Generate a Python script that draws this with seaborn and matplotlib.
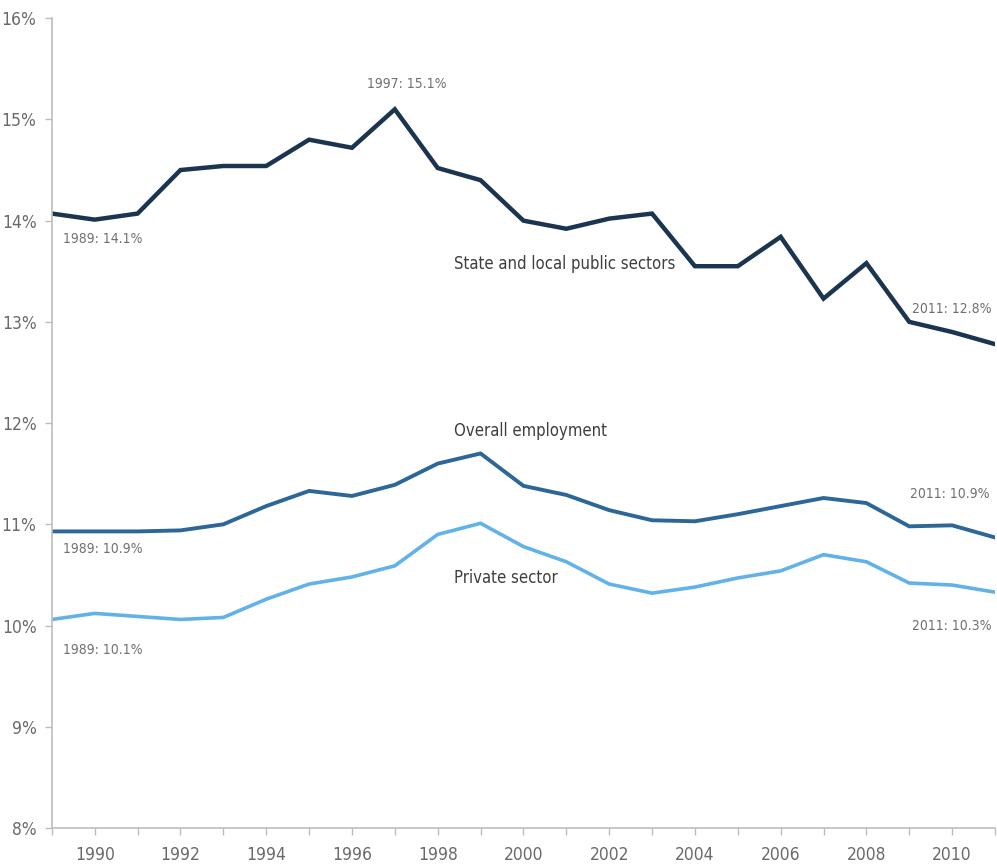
import numpy as np
import pandas as pd
import matplotlib
matplotlib.use("Agg")
import matplotlib.pyplot as plt
from matplotlib.ticker import FuncFormatter
import seaborn as sns

years = list(range(1989, 2012))

state_local = [14.07, 14.01, 14.07, 14.50, 14.54, 14.54, 14.80, 14.72, 15.10, 14.52,
               14.40, 14.00, 13.92, 14.02, 14.07, 13.55, 13.55, 13.84, 13.23, 13.58,
               13.00, 12.90, 12.78]
overall = [10.93, 10.93, 10.93, 10.94, 11.00, 11.18, 11.33, 11.28, 11.39, 11.60,
           11.70, 11.38, 11.29, 11.14, 11.04, 11.03, 11.10, 11.18, 11.26, 11.21,
           10.98, 10.99, 10.87]
private = [10.06, 10.12, 10.09, 10.06, 10.08, 10.26, 10.41, 10.48, 10.59, 10.90,
           11.01, 10.78, 10.63, 10.41, 10.32, 10.38, 10.47, 10.54, 10.70, 10.63,
           10.42, 10.40, 10.33]

series_names = ["State and local public sectors", "Overall employment", "Private sector"]
series_colors = ["#1b3550", "#2c6798", "#62b2ea"]
series_widths = [3.2, 2.8, 2.6]
y_ticks = [8, 9, 10, 11, 12, 13, 14, 15, 16]
x_ticks = list(range(1990, 2011, 2))

df = pd.DataFrame({
    "year": years * 3,
    "share": state_local + overall + private,
    "series": sum([[n] * len(years) for n in series_names], []),
})

sns.set_style("ticks")
plt.rcParams["font.family"] = ["DejaVu Sans"]
plt.rcParams["font.stretch"] = "condensed"

fig = plt.figure(figsize=(9.97, 8.67), dpi=100)
ax = fig.add_axes([0.052, 0.045, 0.946, 0.934])

sns.lineplot(data=df, x="year", y="share", hue="series", hue_order=series_names,
             palette=dict(zip(series_names, series_colors)), legend=False, ax=ax)
for line, lw in zip(ax.get_lines(), series_widths):
    line.set_linewidth(lw)
    line.set_solid_joinstyle("miter")

ax.set_xlim(1989, 2011)
ax.set_ylim(8, 16)
ax.set_yticks(y_ticks)
ax.set_xticks(range(1989, 2012))
ax.set_xticklabels([str(y) if y in x_ticks else "" for y in range(1989, 2012)])
ax.yaxis.set_major_formatter(FuncFormatter(lambda v, p: f"{v:.0f}%"))
ax.set_xlabel("")
ax.set_ylabel("")

gray = "#bdbdbd"
for side in ["left", "bottom"]:
    ax.spines[side].set_color(gray)
    ax.spines[side].set_linewidth(1.2)
sns.despine(ax=ax)
ax.tick_params(axis="both", colors=gray, length=5, width=1.0, labelcolor="#6a6a6a",
               labelsize=12.5)
ax.tick_params(axis="x", pad=8)
ax.tick_params(axis="y", pad=6)

ann_color = "#707070"
ann_size = 10
lab_color = "#3e3e3e"
lab_size = 12

def val_label(year, values):
    return f"{year}: {values[years.index(year)]:.1f}%"

# value callouts
ax.text(1989.26, 13.82, val_label(1989, state_local), color=ann_color, fontsize=ann_size,
        va="center", ha="left")
ax.text(1997.27, 15.35, val_label(1997, state_local), color=ann_color, fontsize=ann_size,
        va="center", ha="center")
ax.text(2009.07, 13.13, val_label(2011, state_local), color=ann_color, fontsize=ann_size,
        va="center", ha="left")
ax.text(2009.02, 11.30, val_label(2011, overall), color=ann_color, fontsize=ann_size,
        va="center", ha="left")
ax.text(1989.26, 10.76, val_label(1989, overall), color=ann_color, fontsize=ann_size,
        va="center", ha="left")
ax.text(2009.07, 9.995, val_label(2011, private), color=ann_color, fontsize=ann_size,
        va="center", ha="left")
ax.text(1989.26, 9.76, val_label(1989, private), color=ann_color, fontsize=ann_size,
        va="center", ha="left")

# series names
ax.text(1998.39, 13.57, series_names[0], color=lab_color, fontsize=lab_size,
        va="center", ha="left")
ax.text(1998.39, 11.92, series_names[1], color=lab_color, fontsize=lab_size,
        va="center", ha="left")
ax.text(1998.39, 10.47, series_names[2], color=lab_color, fontsize=lab_size,
        va="center", ha="left")

fig.savefig("out.png", dpi=100)
